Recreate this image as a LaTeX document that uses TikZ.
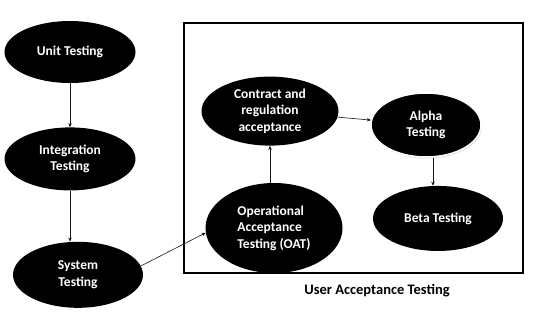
\documentclass[tikz,border=0pt]{standalone}
\usepackage{fontspec}
\setmainfont{Carlito}
\usetikzlibrary{arrows.meta,positioning,shadows}
\definecolor{ovalfill}{RGB}{0,0,0}
\definecolor{ovaltext}{RGB}{255,255,255}
\definecolor{linegray}{RGB}{20,20,20}
\tikzset{
  stage/.style={ellipse, fill=ovalfill, text=ovaltext, align=center, inner sep=0pt,
                font=\bfseries\fontsize{13.5}{16.6}\selectfont},
  flow/.style={-{Stealth[length=4pt,width=3.5pt]}, line width=0.6pt, draw=linegray},
  uatbox/.style={draw=black, line width=1.5pt},
}
\usetikzlibrary{shapes.geometric}

\begin{document}
\begin{tikzpicture}[x=1pt,y=1pt]
    \useasboundingbox (0,0) rectangle (543,-317);
    \node[stage, minimum width=131pt, minimum height=62pt] (unit) at (70,-52) {Unit Testing};
    \node[stage, minimum width=131pt, minimum height=63pt, below=44pt of unit] (integ) {Integration\\ Testing};
    \node[stage, minimum width=130pt, minimum height=66pt, below=51pt of integ, xshift=8pt] (sys) {System\\ Testing};
    \draw[uatbox] (184,-23) rectangle (523,-273);
    \node[stage, minimum width=137pt, minimum height=90pt, align=left] (oat) at (274,-228) {Operational\\ Acceptance\\ Testing (OAT)};
    \node[stage, minimum width=137pt, minimum height=69pt, above=37pt of oat, xshift=-4pt] (contract) {Contract and\\ regulation\\ acceptance};
    \node[stage, minimum width=110pt, minimum height=64pt, draw=white, line width=1.5pt,
          drop shadow={shadow xshift=1pt, shadow yshift=-1.5pt, fill=black!25}] (alpha) at (426,-125) {Alpha\\ Testing};
    \node[stage, minimum width=130pt, minimum height=65pt, below=28pt of alpha, xshift=12pt] (beta) {Beta Testing};
    \node[font=\bfseries\fontsize{14.5}{16}\selectfont] (uat) at (377,-291) {User Acceptance Testing};
    \draw[flow] (unit) -- (integ);
    \draw[flow] (integ.south) -- (integ.south |- sys.north);
    \draw[flow] (sys.8) -- (oat.184);
    \draw[flow] (oat.north -| contract) -- (contract.south);
    \draw[flow] (contract) -- (alpha);
    \draw[flow] (alpha.south -| 433,0) -- (beta.north -| 433,0);
  \end{tikzpicture}
\end{document}
